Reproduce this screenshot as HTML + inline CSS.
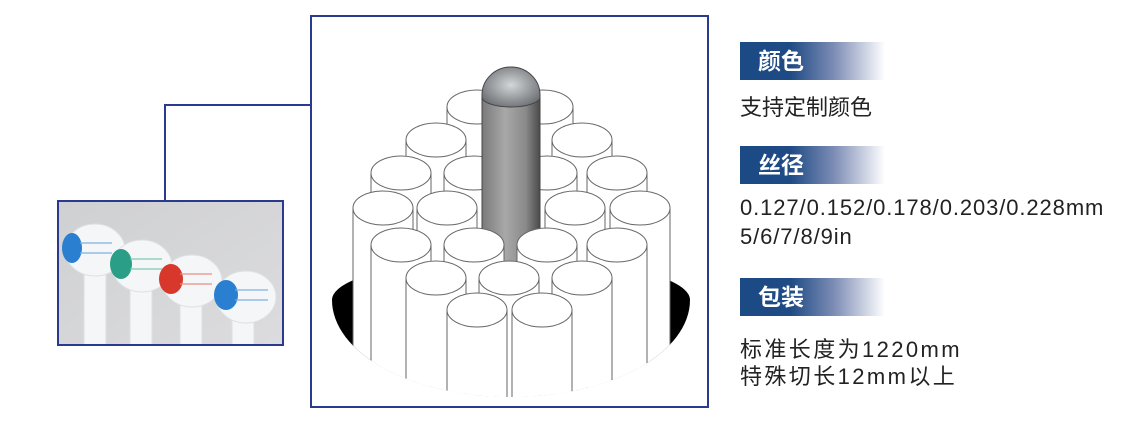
<!DOCTYPE html>
<html><head><meta charset="utf-8"><style>
html,body{margin:0;padding:0;background:#fff;overflow:hidden;}
body{width:1129px;height:424px;position:relative;overflow:hidden;font-family:"Liberation Sans","Noto Sans CJK SC",sans-serif;}
.bar{position:absolute;left:740px;width:145px;height:38px;background:linear-gradient(to right,#1b4a84 0%,#1f4b85 35%,#7d8db5 65%,#fff 100%);color:#fff;font-weight:bold;font-size:23px;line-height:38px;padding-left:18px;box-sizing:border-box;}
.t{position:absolute;left:740px;font-size:22px;color:#222;white-space:nowrap;}
</style></head><body>
<svg width="1129" height="424" style="position:absolute;left:0;top:0;overflow:hidden">
<defs>
<linearGradient id="rod" x1="0" x2="1" y1="0" y2="0">
<stop offset="0" stop-color="#7a7a7a"/><stop offset="0.4" stop-color="#a8a8a8"/><stop offset="0.75" stop-color="#8a8a8a"/><stop offset="1" stop-color="#4a4a4a"/>
</linearGradient>
<radialGradient id="dome" cx="0.5" cy="0.45" r="0.6">
<stop offset="0" stop-color="#d4d6d8"/><stop offset="1" stop-color="#6c7074"/>
</radialGradient>
<clipPath id="cl"><path d="M0,0 H1129 V300 H690 A179,97 0 0 1 332,300 H0 Z"/></clipPath>
<clipPath id="ph"><rect x="59" y="202" width="223" height="142"/></clipPath>
<linearGradient id="bg" x1="0" x2="1" y1="0" y2="1"><stop offset="0" stop-color="#cfd0d2"/><stop offset="1" stop-color="#dcdcde"/></linearGradient>
</defs>
<polyline points="165,200 165,105 310,105" fill="none" stroke="#2a3a8e" stroke-width="2"/>
<rect x="58" y="201" width="225" height="144" fill="url(#bg)" stroke="#2a3a8e" stroke-width="2"/>
<g clip-path="url(#ph)">
 <g fill="#f4f6f8" stroke="#dde0e4" stroke-width="1">
  <rect x="84" y="260" width="22" height="90"/><rect x="130" y="275" width="22" height="75"/>
  <rect x="180" y="290" width="22" height="60"/><rect x="232" y="305" width="22" height="45"/>
  <ellipse cx="95" cy="250" rx="30" ry="26"/><ellipse cx="142" cy="266" rx="30" ry="26"/>
  <ellipse cx="192" cy="281" rx="30" ry="26"/><ellipse cx="246" cy="297" rx="30" ry="26"/>
 </g>
 <g>
  <ellipse cx="72" cy="248" rx="10" ry="15" fill="#2a7fd0"/><ellipse cx="121" cy="264" rx="11" ry="15" fill="#2a9e86"/>
  <ellipse cx="171" cy="279" rx="12" ry="15" fill="#d8382c"/><ellipse cx="226" cy="295" rx="12" ry="15" fill="#2a7fd0"/>
 </g>
 <g stroke-width="2" opacity="0.6">
  <line x1="80" y1="243" x2="112" y2="243" stroke="#7ab0e0"/><line x1="80" y1="253" x2="112" y2="253" stroke="#7ab0e0"/>
  <line x1="130" y1="259" x2="162" y2="259" stroke="#7ac8b0"/><line x1="130" y1="269" x2="162" y2="269" stroke="#7ac8b0"/>
  <line x1="180" y1="274" x2="212" y2="274" stroke="#e88a80"/><line x1="180" y1="284" x2="212" y2="284" stroke="#e88a80"/>
  <line x1="235" y1="290" x2="268" y2="290" stroke="#7ab0e0"/><line x1="235" y1="300" x2="268" y2="300" stroke="#7ab0e0"/>
 </g>
</g>
<rect x="311" y="16" width="397" height="391" fill="#fff" stroke="#2a3a8e" stroke-width="2"/>
<path d="M332,300 A179,42 0 0 1 690,300 A179,97 0 0 1 332,300 Z" fill="#000"/>
<g clip-path="url(#cl)" stroke="#666" stroke-width="1" fill="#fff">
  <rect x="447" y="107" width="60" height="300"/><ellipse cx="477" cy="107" rx="30" ry="17"/>
  <rect x="513" y="107" width="60" height="300"/><ellipse cx="543" cy="107" rx="30" ry="17"/>
  <rect x="406" y="140" width="60" height="270"/><ellipse cx="436" cy="140" rx="30" ry="17"/>
  <rect x="552" y="140" width="60" height="270"/><ellipse cx="582" cy="140" rx="30" ry="17"/>
  <rect x="371" y="173" width="60" height="240"/><ellipse cx="401" cy="173" rx="30" ry="17"/>
  <rect x="444" y="173" width="60" height="240"/><ellipse cx="474" cy="173" rx="30" ry="17"/>
  <rect x="517" y="173" width="60" height="240"/><ellipse cx="547" cy="173" rx="30" ry="17"/>
  <rect x="587" y="173" width="60" height="240"/><ellipse cx="617" cy="173" rx="30" ry="17"/>
  <rect x="353" y="208" width="60" height="200"/><ellipse cx="383" cy="208" rx="30" ry="17"/>
  <rect x="417" y="208" width="60" height="200"/><ellipse cx="447" cy="208" rx="30" ry="17"/>
  <rect x="545" y="208" width="60" height="200"/><ellipse cx="575" cy="208" rx="30" ry="17"/>
  <rect x="610" y="208" width="60" height="200"/><ellipse cx="640" cy="208" rx="30" ry="17"/>
 <rect x="482" y="96" width="58" height="170" fill="url(#rod)" stroke="#444"/>
 <path d="M482,97 L482,95 A29,28 0 0 1 540,95 L540,97 A29,10 0 0 1 482,97 Z" fill="url(#dome)" stroke="#444"/>
 <rect x="371" y="245" width="60" height="170"/><ellipse cx="401" cy="245" rx="30" ry="17"/>
 <rect x="444" y="245" width="60" height="170"/><ellipse cx="474" cy="245" rx="30" ry="17"/>
 <rect x="517" y="245" width="60" height="170"/><ellipse cx="547" cy="245" rx="30" ry="17"/>
 <rect x="587" y="245" width="60" height="170"/><ellipse cx="617" cy="245" rx="30" ry="17"/>
 <rect x="406" y="278" width="60" height="140"/><ellipse cx="436" cy="278" rx="30" ry="17"/>
 <rect x="479" y="278" width="60" height="140"/><ellipse cx="509" cy="278" rx="30" ry="17"/>
 <rect x="552" y="278" width="60" height="140"/><ellipse cx="582" cy="278" rx="30" ry="17"/>
 <rect x="447" y="310" width="60" height="110"/><ellipse cx="477" cy="310" rx="30" ry="17"/>
 <rect x="512" y="310" width="60" height="110"/><ellipse cx="542" cy="310" rx="30" ry="17"/>
</g>
</svg>
<div class="bar" style="top:42px">颜色</div>
<div class="t" style="top:93px;line-height:30px">支持定制颜色</div>
<div class="bar" style="top:146px">丝径</div>
<div class="t" style="top:193px;line-height:29px;letter-spacing:0.9px">0.127/0.152/0.178/0.203/0.228mm<br>5/6/7/8/9in</div>
<div class="bar" style="top:278px">包装</div>
<div class="t" style="top:336px;line-height:27px;letter-spacing:2.4px">标准长度为1220mm<br>特殊切长12mm以上</div>
</body></html>
